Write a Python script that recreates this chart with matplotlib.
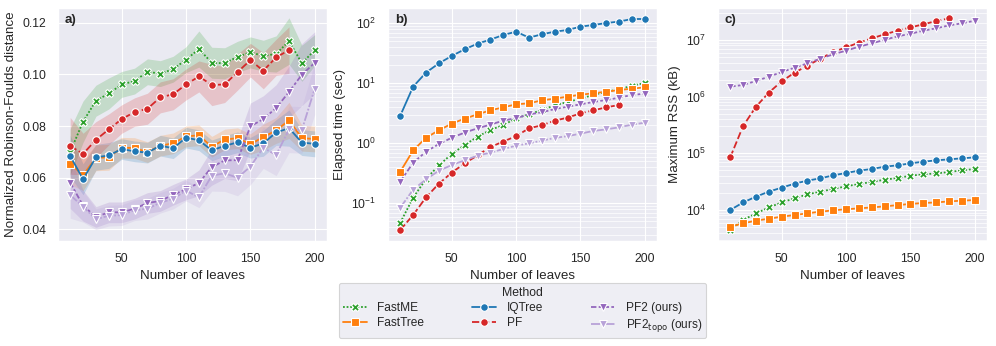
import numpy as np
import matplotlib
matplotlib.use('Agg')
import matplotlib.pyplot as plt
import seaborn as sns

sns.set_theme(style='darkgrid', context='paper')
plt.rcParams['font.family'] = ['Liberation Sans', 'DejaVu Sans']

leaves = np.arange(10, 201, 10)  # PF series stop at 180

methods = ['FastME', 'FastTree', 'IQTree', 'PF', 'PF2', 'PF2topo']
labels = ['FastME', 'FastTree', 'IQTree', 'PF', 'PF2 (ours)', r'PF2$_{\mathrm{topo}}$ (ours)']

# a) normalized Robinson-Foulds distance (mean) and band half widths
rf_fastme = [0.0700, 0.0817, 0.0898, 0.0926, 0.0961, 0.0974, 0.1010, 0.1003, 0.1020, 0.1057,
             0.1098, 0.1045, 0.1043, 0.1068, 0.1085, 0.1072, 0.1079, 0.1129, 0.1043, 0.1094]
rf_fasttree = [0.0654, 0.0610, 0.0677, 0.0679, 0.0716, 0.0715, 0.0699, 0.0724, 0.0733, 0.0760,
               0.0764, 0.0720, 0.0748, 0.0753, 0.0730, 0.0757, 0.0783, 0.0822, 0.0753, 0.0750]
rf_iqtree = [0.0684, 0.0594, 0.0679, 0.0686, 0.0711, 0.0702, 0.0697, 0.0724, 0.0714, 0.0755,
             0.0745, 0.0706, 0.0723, 0.0737, 0.0716, 0.0733, 0.0775, 0.0792, 0.0736, 0.0731]
rf_pf = [0.0723, 0.0692, 0.0747, 0.0787, 0.0827, 0.0854, 0.0867, 0.0911, 0.0923, 0.0961,
         0.0992, 0.0959, 0.0961, 0.1009, 0.1055, 0.1014, 0.1066, 0.1094]
rf_pf2 = [0.0581, 0.0492, 0.0448, 0.0466, 0.0466, 0.0480, 0.0502, 0.0510, 0.0534, 0.0555,
          0.0580, 0.0641, 0.0667, 0.0668, 0.0799, 0.0827, 0.0870, 0.0932, 0.0999, 0.1045]
rf_pf2topo = [0.0533, 0.0488, 0.0439, 0.0453, 0.0455, 0.0474, 0.0480, 0.0503, 0.0519, 0.0550,
              0.0524, 0.0608, 0.0617, 0.0600, 0.0643, 0.0716, 0.0688, 0.0787, 0.0785, 0.0945]

hw_fastme = [0.009, 0.008, 0.006, 0.006, 0.005, 0.005, 0.005, 0.005, 0.005, 0.005,
             0.007, 0.006, 0.006, 0.006, 0.006, 0.006, 0.007, 0.009, 0.007, 0.006]
hw_fasttree = [0.008, 0.006, 0.005, 0.005, 0.004, 0.004, 0.004, 0.004, 0.004, 0.004,
               0.004, 0.004, 0.004, 0.004, 0.004, 0.005, 0.005, 0.007, 0.005, 0.005]
hw_iqtree = [0.008, 0.006, 0.005, 0.005, 0.004, 0.004, 0.004, 0.004, 0.004, 0.004,
             0.004, 0.004, 0.004, 0.004, 0.004, 0.005, 0.005, 0.007, 0.005, 0.005]
hw_pf = [0.011, 0.008, 0.007, 0.006, 0.0055, 0.0055, 0.006, 0.006, 0.006, 0.006,
         0.006, 0.008, 0.007, 0.007, 0.0065, 0.007, 0.007, 0.009]
hw_pf2 = [0.010, 0.006, 0.004, 0.004, 0.004, 0.004, 0.004, 0.004, 0.004, 0.004,
          0.005, 0.007, 0.007, 0.008, 0.009, 0.009, 0.009, 0.010, 0.012, 0.012]
hw_pf2topo = [0.009, 0.006, 0.004, 0.004, 0.004, 0.004, 0.004, 0.004, 0.004, 0.004,
              0.004, 0.006, 0.007, 0.007, 0.007, 0.008, 0.008, 0.009, 0.009, 0.010]

# b) elapsed time (sec)
t_fastme = [0.0476, 0.124, 0.255, 0.43, 0.664, 0.938, 1.29, 1.67, 2.02, 2.61,
            3.04, 3.59, 4.3, 4.89, 5.55, 6.4, 7.26, 7.94, 9.14, 10.1]
t_fasttree = [0.337, 0.764, 1.24, 1.65, 2.13, 2.58, 3.04, 3.55, 3.98, 4.47,
              4.64, 5.21, 5.55, 6.0, 6.47, 6.81, 7.26, 7.74, 8.15, 8.58]
t_iqtree = [2.89, 8.8, 15.1, 21.5, 28.6, 36.9, 45.8, 53.5, 63.9, 72.6,
            57.7, 65.6, 72.6, 77.4, 88.0, 93.8, 101, 107, 118, 118]
t_pf = [0.036, 0.064, 0.126, 0.213, 0.325, 0.464, 0.631, 0.869, 1.07, 1.32,
        1.78, 2.0, 2.39, 2.68, 3.16, 3.55, 3.98, 4.36]
t_pf2 = [0.23, 0.476, 0.726, 0.975, 1.24, 1.51, 1.78, 2.05, 2.39, 2.64,
         3.04, 3.29, 3.73, 4.08, 4.47, 4.89, 5.27, 5.77, 6.4, 6.73]
t_pf2topo = [0.0847, 0.169, 0.251, 0.35, 0.435, 0.521, 0.623, 0.699, 0.805, 0.915,
             1.0, 1.11, 1.23, 1.32, 1.45, 1.61, 1.71, 1.85, 2.05, 2.21]

# c) maximum RSS (kB)
m_fastme = [4440, 6670, 8730, 11100, 13600, 16100, 18900, 21100, 23500, 26200,
            28800, 31200, 34300, 36700, 40300, 42600, 44300, 46800, 50100, 52900]
m_fasttree = [5080, 5820, 6490, 7030, 7620, 8160, 8730, 9350, 9860, 10300,
              10700, 11100, 11600, 12200, 12800, 13300, 13600, 14200, 14600, 15000]
m_iqtree = [10000, 13600, 17200, 21100, 24800, 29200, 33000, 36200, 40900, 45000,
            49500, 52900, 58200, 61400, 66600, 71300, 75200, 78300, 81600, 85000]
m_pf = [85000, 303000, 667000, 1.18e6, 1.87e6, 2.65e6, 3.53e6, 4.69e6, 6.14e6, 7.43e6,
        8.97e6, 1.07e7, 1.26e7, 1.46e7, 1.67e7, 1.89e7, 2.16e7, 2.41e7]
m_pf2 = [1.5e6, 1.61e6, 1.89e6, 2.25e6, 2.72e6, 3.25e6, 3.87e6, 4.69e6, 5.59e6, 6.49e6,
         7.62e6, 8.73e6, 1.01e7, 1.16e7, 1.29e7, 1.46e7, 1.61e7, 1.81e7, 1.97e7, 2.19e7]

colors = {'FastME': '#2ca02c', 'FastTree': '#ff7f0e', 'IQTree': '#1f77b4',
          'PF': '#d62728', 'PF2': '#9467bd', 'PF2topo': '#b8a2d8'}
markers = {'FastME': 'X', 'FastTree': 's', 'IQTree': 'o', 'PF': 'o', 'PF2': 'v', 'PF2topo': 'v'}
dashes = {'FastME': (1, 1), 'FastTree': (None, None), 'IQTree': (None, None),
          'PF': (4, 1.5), 'PF2': (3, 1.25, 1.5, 1.25), 'PF2topo': (5, 1, 1, 1)}


def draw(ax, x, y, m, hw=None):
    x = x[:len(y)]
    ln, = ax.plot(x, y, color=colors[m], marker=markers[m], markersize=5.5,
                  markeredgecolor='white', markeredgewidth=0.8, linewidth=1.3)
    if dashes[m][0] is not None:
        ln.set_dashes(dashes[m])
    if hw is not None:
        y = np.array(y)
        hw = np.array(hw)
        ax.fill_between(x, y - hw, y + hw, color=colors[m], alpha=0.2, linewidth=0)
    return ln


fig = plt.figure(figsize=(9.96, 3.46), dpi=100)
w, h, b = 0.2701, 0.6734, 0.3035
ax1 = fig.add_axes([0.0582, b, w, h])
ax2 = fig.add_axes([0.3896, b, w, h])
ax3 = fig.add_axes([0.7209, b, w, h])

rf = {'FastME': (rf_fastme, hw_fastme), 'FastTree': (rf_fasttree, hw_fasttree),
      'IQTree': (rf_iqtree, hw_iqtree), 'PF': (rf_pf, hw_pf),
      'PF2': (rf_pf2, hw_pf2), 'PF2topo': (rf_pf2topo, hw_pf2topo)}
handles = []
for m in methods:
    handles.append(draw(ax1, leaves, rf[m][0], m, rf[m][1]))
ax1.set_ylim(0.0355, 0.1257)
ax1.set_ylabel('Normalized Robinson-Foulds distance')

times = {'FastME': t_fastme, 'FastTree': t_fasttree, 'IQTree': t_iqtree,
         'PF': t_pf, 'PF2': t_pf2, 'PF2topo': t_pf2topo}
for m in methods:
    draw(ax2, leaves, times[m], m)
ax2.set_yscale('log')
ax2.set_ylim(0.0236, 180)
ax2.set_ylabel('Elapsed time (sec)')

mem = {'FastME': m_fastme, 'FastTree': m_fasttree, 'IQTree': m_iqtree,
       'PF': m_pf, 'PF2': m_pf2}
for m in ['FastME', 'FastTree', 'IQTree', 'PF', 'PF2']:
    draw(ax3, leaves, mem[m], m)
ax3.set_yscale('log')
ax3.set_ylim(2840, 3.67e7)
ax3.set_ylabel('Maximum RSS (kB)')

for ax, tag in zip([ax1, ax2, ax3], ['a)', 'b)', 'c)']):
    ax.set_xlim(0.5, 209.5)
    ax.set_xticks([50, 100, 150, 200])
    ax.set_xlabel('Number of leaves')
    ax.text(0.025, 0.975, tag, transform=ax.transAxes, fontweight='bold',
            va='top', ha='left', fontsize=9.6)
for ax in [ax2, ax3]:
    ax.grid(True, which='minor', color='white', linewidth=0.5)

# legend sits under the middle panel
fig.legend(handles, labels, title='Method', ncol=3, loc='upper center',
           bbox_to_anchor=(0.5246, 0.2), columnspacing=4.0, handlelength=2.0,
           handletextpad=0.9, labelspacing=0.25, borderpad=0.35,
           fontsize=8.6, title_fontsize=8.8, frameon=True)

plt.savefig('out.png', dpi=100)
